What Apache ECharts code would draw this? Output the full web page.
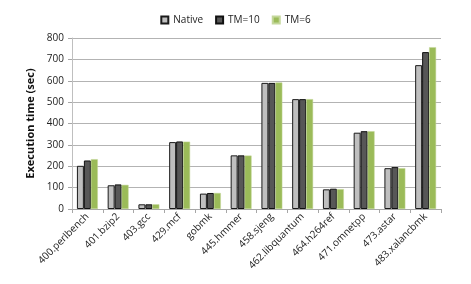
<!DOCTYPE html>
<html><head><meta charset="utf-8">
<script src="https://cdn.jsdelivr.net/npm/echarts@6/dist/echarts.min.js"></script>
<style>html,body{margin:0;padding:0;background:#fff}#c{width:471px;height:284px}</style>
</head><body><div id="c"></div>
<script>
const categories = ["400.perlbench","401.bzip2","403.gcc","429.mcf","gobmk","445.hmmer","458.sjeng","462.libquantum","464.h264ref","471.omnetpp","473.astar","483.xalancbmk"];
const nativeVals = [202,111,22,313,72,251,590,514,92,357,191,673];
const tm10Vals = [227,115,22,316,75,251,590,514,95,364,196,734];
const tm6Vals = [233,113,22,315,75,250,592,514,93,364,191,757];
const yTicks = {min:0,max:800,interval:100};

const font = "'Open Sans', 'Liberation Sans', sans-serif";
const chart = echarts.init(document.getElementById('c'), null, {renderer:'canvas'});
chart.setOption({
  animation:false,
  textStyle:{fontFamily:font},
  legend:{
    top:10, left:'center', icon:'rect', itemWidth:7, itemHeight:7, itemGap:12,
    textStyle:{fontSize:10, color:'#222', fontFamily:font},
    data:['Native','TM=10','TM=6']
  },
  grid:{left:72, right:30, top:38, bottom:75, containLabel:false},
  xAxis:{
    type:'category', data:categories,
    axisLine:{lineStyle:{color:'#a6a6a6'}},
    axisTick:{show:true, alignWithLabel:false, length:4, lineStyle:{color:'#a6a6a6'}},
    axisLabel:{rotate:45, fontSize:10, color:'#222', margin:6, interval:0, fontFamily:font}
  },
  yAxis:{
    type:'value', min:yTicks.min, max:yTicks.max, interval:yTicks.interval,
    name:'Execution time (sec)', nameLocation:'middle', nameGap:36,
    nameTextStyle:{fontSize:11, fontWeight:'bold', color:'#111', fontFamily:font},
    axisLine:{show:true, lineStyle:{color:'#bfbfbf'}},
    axisTick:{show:true, length:4, lineStyle:{color:'#a6a6a6'}},
    axisLabel:{fontSize:10, color:'#222', margin:8, fontFamily:font},
    splitLine:{lineStyle:{color:'#b3b3b3'}}
  },
  series:[
    {name:'Native', type:'bar', data:nativeVals, barGap:'0%', barCategoryGap:'32%',
     itemStyle:{color:'#bfbfbf', borderColor:'#1a1a1a', borderWidth:1}},
    {name:'TM=10', type:'bar', data:tm10Vals, barGap:'0%',
     itemStyle:{color:'#575757', borderColor:'#111', borderWidth:1}},
    {name:'TM=6', type:'bar', data:tm6Vals, barGap:'0%',
     itemStyle:{color:'#9bbb59', borderColor:'#c4d79b', borderWidth:0.5}}
  ]
});
</script></body></html>
